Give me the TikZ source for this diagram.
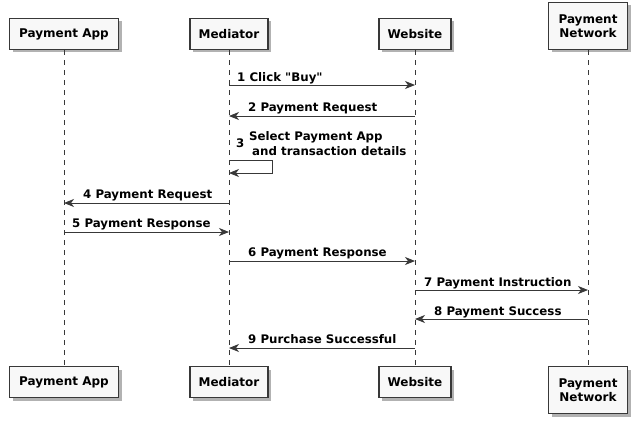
\documentclass[tikz,border=0pt]{standalone}
\usepackage{fontspec}
\setmainfont{DejaVu Sans}
\usetikzlibrary{arrows.meta,shadows}
\definecolor{umlline}{HTML}{383838}
\definecolor{umlfill}{HTML}{F8F8F8}
\tikzset{
  actor/.style={draw=umlline, fill=umlfill, line width=1.1pt, inner sep=0pt,
    minimum height=31pt, align=center, font=\bfseries\fontsize{12}{14}\selectfont,
    drop shadow={shadow xshift=3pt, shadow yshift=-3pt, fill=black, opacity=0.3}},
  lifeline/.style={umlline, line width=0.7pt, dash pattern=on 5pt off 5pt},
  msg/.style={umlline, line width=0.9pt, -{Stealth[length=10pt,width=8pt,inset=3pt]}},
  lbl/.style={inner sep=0pt, anchor=base west, font=\bfseries\fontsize{11.8}{15}\selectfont}
}
\begin{document}
\begin{tikzpicture}[x=1pt,y=-1pt]
  \useasboundingbox (0,0) rectangle (635,424);

  \node[actor, anchor=south, minimum width=109pt] (pa) at (64,50) {Payment App};
  \node[actor, anchor=south, minimum width=78pt] (med) at (229,50) {Mediator};
  \node[actor, anchor=south, minimum width=72pt] (web) at (415,50) {Website};
  \node[actor, anchor=south, minimum width=79pt, minimum height=47pt] (pn) at (588,50) {Payment\\Network};

  \node[actor, anchor=north, minimum width=109pt] (pab) at (64,366) {Payment App};
  \node[actor, anchor=north, minimum width=78pt] (medb) at (229,366) {Mediator};
  \node[actor, anchor=north, minimum width=72pt] (webb) at (415,366) {Website};
  \node[actor, anchor=north, minimum width=79pt, minimum height=47pt] (pnb) at (588,366) {Payment\\Network};

  \draw[lifeline] (pa.south) -- (pab.north);
  \draw[lifeline] (med.south) -- (medb.north);
  \draw[lifeline] (web.south) -- (webb.north);
  \draw[lifeline] (pn.south) -- (pnb.north);

  \draw[msg] (med |- 0,85) -- (web |- 0,85);
  \node[lbl] (l1) at (237,81) {1 Click \textquotedbl Buy\textquotedbl};

  \draw[msg] (web |- 0,116) -- (med |- 0,116);
  \node[lbl] (l2) at (248,111) {2 Payment Request};

  \coordinate (selfa) at (272,160);
  \coordinate (selfb) at (272,173);
  \draw[msg] (med |- selfa) -- (selfa) -- (selfb) -- (med |- selfb);
  \node[lbl] (l3n) at (236,147) {3};
  \node[lbl, align=left] (l3) at (249,155) {Select Payment App\\\hspace*{3pt}and transaction details};

  \draw[msg] (med |- 0,203) -- (pa |- 0,203);
  \node[lbl] (l4) at (83,198) {4 Payment Request};

  \draw[msg] (pa |- 0,232) -- (med |- 0,232);
  \node[lbl] (l5) at (72,227) {5 Payment Response};

  \draw[msg] (med |- 0,261) -- (web |- 0,261);
  \node[lbl] (l6) at (248,256) {6 Payment Response};

  \draw[msg] (web |- 0,290) -- (pn |- 0,290);
  \node[lbl] (l7) at (424,286) {7 Payment Instruction};

  \draw[msg] (pn |- 0,319) -- (web |- 0,319);
  \node[lbl] (l8) at (434,315) {8 Payment Success};

  \draw[msg] (web |- 0,348) -- (med |- 0,348);
  \node[lbl] (l9) at (248,343) {9 Purchase Successful};
\end{tikzpicture}
\end{document}
